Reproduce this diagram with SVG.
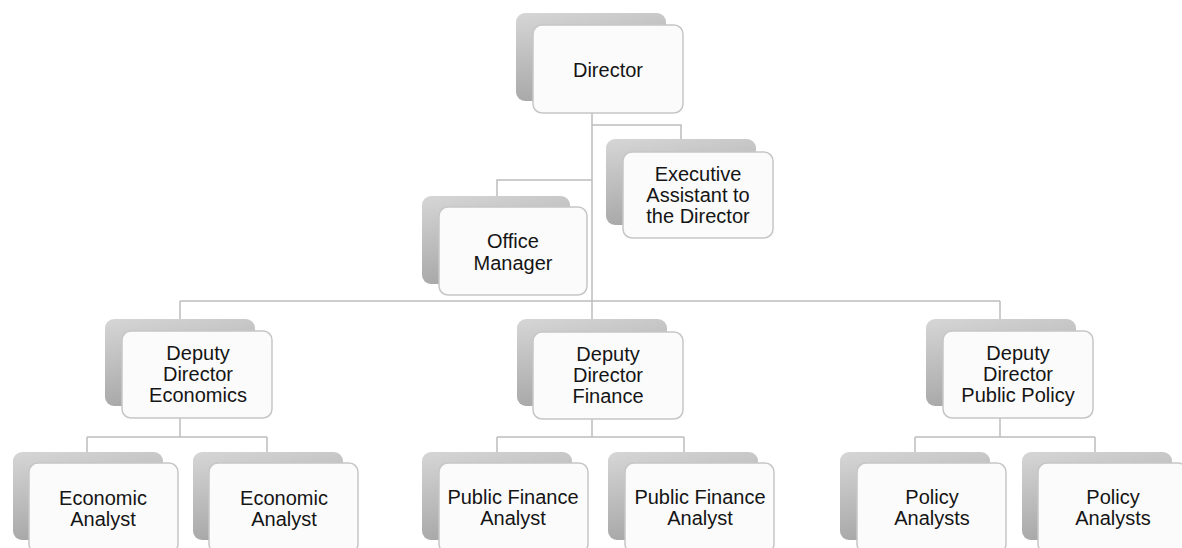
<svg xmlns="http://www.w3.org/2000/svg" width="1182" height="548" viewBox="0 0 1182 548">
<defs>
<linearGradient id="sg" x1="0" y1="0" x2="0.3" y2="1">
<stop offset="0" stop-color="#d6d6d6"/>
<stop offset="1" stop-color="#a6a6a6"/>
</linearGradient>
<style>
.sh{fill:url(#sg);}
.fr{fill:#fbfbfb;stroke:#c6c6c6;stroke-width:1.5;}
.t{font-family:"Liberation Sans",Arial,sans-serif;font-size:20px;fill:#151515;text-anchor:middle;}
.c{fill:none;stroke:#bdbdbd;stroke-width:1.5;}
</style>
</defs>
<rect width="1182" height="548" fill="#ffffff"/>
<g id="connectors" class="c">
<path d="M592 113 V301"/>
<path d="M592 125 H681 V139"/>
<path d="M592 180 H497 V196"/>
<path d="M180 301 H1000"/>
<path d="M180 301 V319"/>
<path d="M1000 301 V319"/>
<path d="M592 301 V319"/>
<path d="M180 417 V437 M87 437 H267 M87 437 V452 M267 437 V452"/>
<path d="M592 419 V437 M497 437 H684 M497 437 V452 M684 437 V452"/>
<path d="M1000 417 V437 M915 437 H1095 M915 437 V452 M1095 437 V452"/>
</g>
<g id="director">
<rect class="sh" x="516" y="13" width="150" height="88" rx="9"/>
<rect class="fr" x="533" y="25" width="150" height="88" rx="9"/>
<text class="t" x="608" y="77">Director</text>
</g>
<g id="exec-assistant">
<rect class="sh" x="606" y="139" width="150" height="86" rx="9"/>
<rect class="fr" x="623" y="152" width="150" height="86" rx="9"/>
<text class="t" x="698" y="181">Executive</text>
<text class="t" x="698" y="202">Assistant to</text>
<text class="t" x="698" y="223">the Director</text>
</g>
<g id="office-manager">
<rect class="sh" x="422" y="196" width="148" height="88" rx="9"/>
<rect class="fr" x="439" y="207" width="148" height="88" rx="9"/>
<text class="t" x="513" y="248">Office</text>
<text class="t" x="513" y="270">Manager</text>
</g>
<g id="deputy-economics">
<rect class="sh" x="105" y="319" width="150" height="87" rx="9"/>
<rect class="fr" x="122" y="331" width="150" height="87" rx="9"/>
<text class="t" x="198" y="360">Deputy</text>
<text class="t" x="198" y="381">Director</text>
<text class="t" x="198" y="402">Economics</text>
</g>
<g id="deputy-finance">
<rect class="sh" x="517" y="319" width="150" height="87" rx="9"/>
<rect class="fr" x="533" y="332" width="150" height="87" rx="9"/>
<text class="t" x="608" y="361">Deputy</text>
<text class="t" x="608" y="382">Director</text>
<text class="t" x="608" y="403">Finance</text>
</g>
<g id="deputy-public-policy">
<rect class="sh" x="926" y="319" width="150" height="87" rx="9"/>
<rect class="fr" x="943" y="331" width="150" height="87" rx="9"/>
<text class="t" x="1018" y="360">Deputy</text>
<text class="t" x="1018" y="381">Director</text>
<text class="t" x="1018" y="402">Public Policy</text>
</g>
<g id="economic-analyst-1">
<rect class="sh" x="13" y="452" width="150" height="88" rx="9"/>
<rect class="fr" x="29" y="463" width="149" height="90" rx="9"/>
<text class="t" x="103" y="505">Economic</text>
<text class="t" x="103" y="526">Analyst</text>
</g>
<g id="economic-analyst-2">
<rect class="sh" x="193" y="452" width="150" height="88" rx="9"/>
<rect class="fr" x="209" y="463" width="149" height="90" rx="9"/>
<text class="t" x="284" y="505">Economic</text>
<text class="t" x="284" y="526">Analyst</text>
</g>
<g id="public-finance-analyst-1">
<rect class="sh" x="422" y="452" width="150" height="88" rx="9"/>
<rect class="fr" x="439" y="463" width="149" height="90" rx="9"/>
<text class="t" x="513" y="504">Public Finance</text>
<text class="t" x="513" y="525">Analyst</text>
</g>
<g id="public-finance-analyst-2">
<rect class="sh" x="608" y="452" width="150" height="88" rx="9"/>
<rect class="fr" x="625" y="463" width="149" height="90" rx="9"/>
<text class="t" x="700" y="504">Public Finance</text>
<text class="t" x="700" y="525">Analyst</text>
</g>
<g id="policy-analysts-1">
<rect class="sh" x="840" y="452" width="150" height="88" rx="9"/>
<rect class="fr" x="857" y="463" width="149" height="90" rx="9"/>
<text class="t" x="932" y="504">Policy</text>
<text class="t" x="932" y="525">Analysts</text>
</g>
<g id="policy-analysts-2">
<rect class="sh" x="1022" y="452" width="150" height="88" rx="9"/>
<rect class="fr" x="1038" y="463" width="149" height="90" rx="9"/>
<text class="t" x="1113" y="504">Policy</text>
<text class="t" x="1113" y="525">Analysts</text>
</g>
</svg>
